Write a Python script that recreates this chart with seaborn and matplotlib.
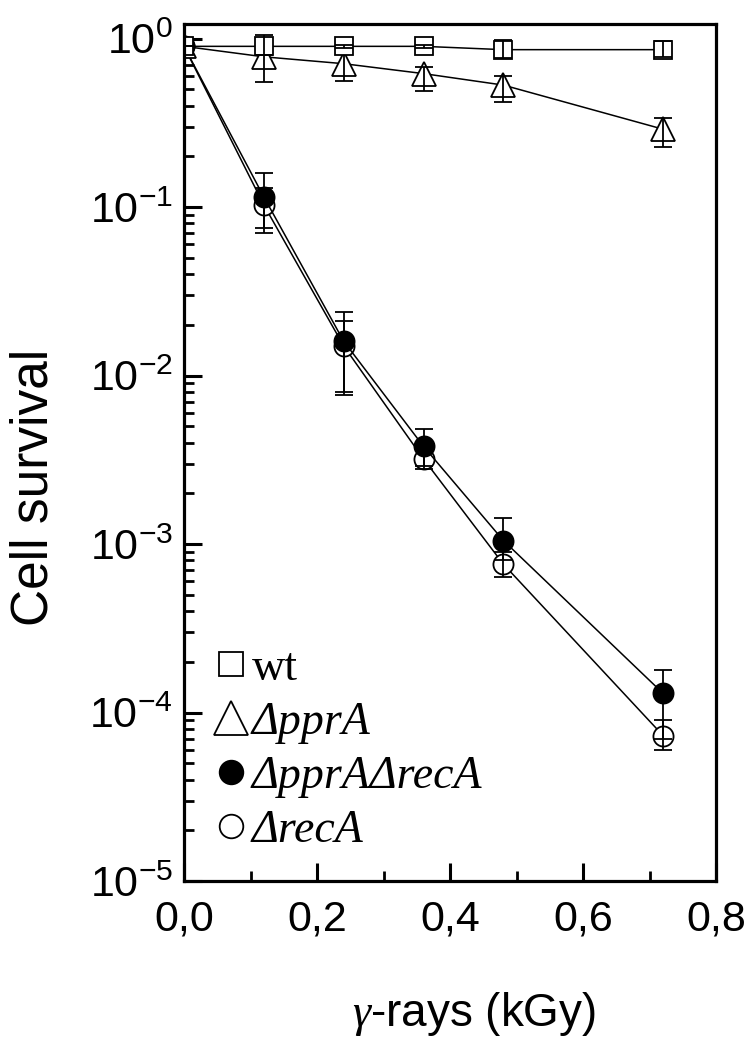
import numpy as np
import matplotlib
matplotlib.use("Agg")
import matplotlib.pyplot as plt
import seaborn as sns
from matplotlib.lines import Line2D
from matplotlib.ticker import FixedLocator, FuncFormatter, NullFormatter

# --- Data ---
dose = [0.0, 0.12, 0.24, 0.36, 0.48, 0.72]

wt = [0.9, 0.9, 0.9, 0.9, 0.86, 0.86]
wt_lo = [0.9, 0.8, 0.88, 0.88, 0.77, 0.78]
wt_hi = [0.9, 1.05, 0.92, 0.92, 0.98, 0.97]

ppra = [0.9, 0.78, 0.71, 0.62, 0.53, 0.29]
ppra_lo = [0.9, 0.55, 0.56, 0.49, 0.42, 0.227]
ppra_hi = [0.9, 1.0, 0.83, 0.68, 0.6, 0.337]

ppra_reca = [0.9, 0.115, 0.016, 0.0038, 0.00105, 0.00013]
ppra_reca_lo = [0.9, 0.07, 0.0077, 0.0029, 0.0008, 0.00007]
ppra_reca_hi = [0.9, 0.16, 0.024, 0.0048, 0.00143, 0.00018]

reca = [0.9, 0.103, 0.015, 0.0032, 0.00076, 0.000073]
reca_lo = [0.9, 0.075, 0.008, 0.0028, 0.00064, 0.00006]
reca_hi = [0.9, 0.13, 0.021, 0.0037, 0.0009, 0.00009]

labels = ["wt", "\u0394pprA", "\u0394pprA\u0394recA", "\u0394recA"]

x_ticks = [0.0, 0.2, 0.4, 0.6, 0.8]
y_ticks = [1e-5, 1e-4, 1e-3, 1e-2, 1e-1, 1e0]

# --- Style ---
sns.set_style("ticks")
plt.rcParams['font.family'] = ['Liberation Sans', 'DejaVu Sans']
plt.rcParams['mathtext.fontset'] = 'custom'
plt.rcParams['mathtext.rm'] = 'Liberation Sans'
plt.rcParams['mathtext.it'] = 'Liberation Serif:italic'
plt.rcParams['mathtext.default'] = 'it'
for key in ['text.color', 'axes.labelcolor', 'xtick.color', 'ytick.color', 'axes.edgecolor']:
    plt.rcParams[key] = 'black'

fig = plt.figure(figsize=(7.54, 10.47), dpi=100)
ax = fig.add_axes([0.244, 0.1585, 0.706, 0.8185])

series = [
    (reca, reca_lo, reca_hi, 'o', 'white', 14.5),
    (ppra_reca, ppra_reca_lo, ppra_reca_hi, 'o', 'black', 14.5),
    (ppra, ppra_lo, ppra_hi, '^', 'white', 17),
    (wt, wt_lo, wt_hi, 's', 'white', 13),
]

for i, (y, lo, hi, mk, fc, ms) in enumerate(series):
    sns.lineplot(x=dose, y=y, ax=ax, color='black', linewidth=1.1,
                 marker=mk, markersize=ms, markerfacecolor=fc,
                 markeredgecolor='black', markeredgewidth=1.3,
                 zorder=2 + i * 0.1, errorbar=None)
    yerr = [np.array(y) - np.array(lo), np.array(hi) - np.array(y)]
    ax.errorbar(dose, y, yerr=yerr, fmt='none', ecolor='black',
                elinewidth=1.3, capsize=6.5, capthick=1.3, zorder=2.05 + i * 0.1)

ax.set_yscale('log')
ax.set_xlim(0, 0.8)
ax.set_ylim(1e-5, 1.22)

ax.xaxis.set_major_locator(FixedLocator(x_ticks))
ax.xaxis.set_minor_locator(FixedLocator([0.1, 0.3, 0.5, 0.7]))
ax.xaxis.set_major_formatter(FuncFormatter(lambda v, p: f"{v:.1f}".replace('.', ',')))
ax.yaxis.set_major_locator(FixedLocator(y_ticks))
ax.yaxis.set_major_formatter(FuncFormatter(lambda v, p: r'$\mathrm{10^{%d}}$' % int(round(np.log10(v)))))
ax.yaxis.set_minor_locator(FixedLocator([m * 10.0 ** e for e in range(-5, 0) for m in range(2, 10)]))
ax.yaxis.set_minor_formatter(NullFormatter())

for s in ax.spines.values():
    s.set_linewidth(2.3)
    s.set_color('black')
ax.tick_params(axis='y', which='major', direction='in', length=13, width=2.2, labelsize=31, pad=8)
ax.tick_params(axis='x', which='major', direction='in', length=13, width=2.2, labelsize=31, pad=13)
ax.tick_params(which='minor', direction='in', length=7, width=2.0)

ax.set_ylabel("Cell survival", fontsize=37)
ax.yaxis.set_label_coords(-0.235, 0.459)
ax.set_xlabel(r"$\gamma$-rays (kGy)", fontsize=33)
ax.xaxis.set_label_coords(0.545, -0.127)

# legend
handles = [
    Line2D([], [], linestyle='none', marker='s', markersize=17, markerfacecolor='white', markeredgecolor='black', markeredgewidth=1.3),
    Line2D([], [], linestyle='none', marker='^', markersize=24, markerfacecolor='white', markeredgecolor='black', markeredgewidth=1.3),
    Line2D([], [], linestyle='none', marker='o', markersize=17, markerfacecolor='black', markeredgecolor='black', markeredgewidth=1.3),
    Line2D([], [], linestyle='none', marker='o', markersize=17, markerfacecolor='white', markeredgecolor='black', markeredgewidth=1.3),
]
leg = ax.legend(handles, labels, loc='lower left', bbox_to_anchor=(0.02, 0.013),
                frameon=False, handlelength=0.8, handletextpad=0.05,
                labelspacing=0.25, borderaxespad=0,
                prop={'family': 'Liberation Serif', 'size': 33})
for t in leg.get_texts()[1:]:
    t.set_fontstyle('italic')

fig.savefig("out.png", dpi=100)
